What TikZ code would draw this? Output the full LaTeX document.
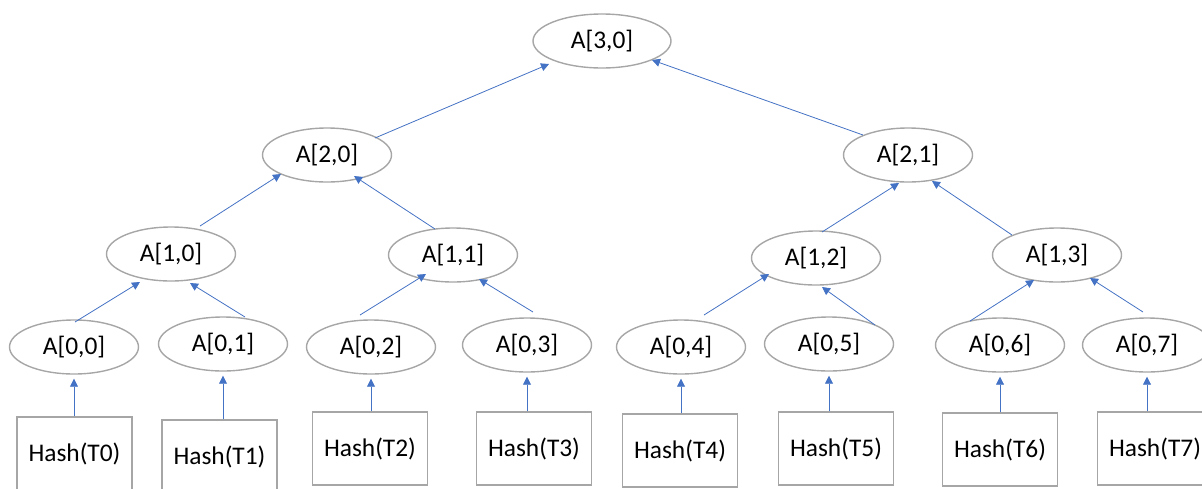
\documentclass[tikz,border=0pt]{standalone}
\usepackage{fontspec}
\setmainfont{Carlito}
\usetikzlibrary{shapes.geometric,arrows.meta}
\definecolor{edgeblue}{RGB}{68,114,196}
\definecolor{bordergray}{RGB}{166,166,166}
\tikzset{
  hnode/.style={ellipse,draw=bordergray,line width=0.7pt,inner sep=0pt,
    minimum width=64.5pt,minimum height=27pt,font=\fontsize{12.7}{15}\selectfont},
  hbox/.style={rectangle,draw=bordergray,line width=0.7pt,inner sep=0pt,
    minimum width=57.5pt,minimum height=36.5pt,font=\fontsize{12.7}{15}\selectfont},
  link/.style={draw=edgeblue,line width=0.4pt,-{Triangle[length=4pt,width=4pt]}}
}
\begin{document}
\begin{tikzpicture}[x=0.5pt,y=-0.5pt]
\path[use as bounding box,clip] (0,0) rectangle (1202,488);
% level 3
\node[hnode,minimum width=69pt] (a30) at (602,41) {A[3,0]};
% level 2
\node[hnode] (a20) at (327,155) {A[2,0]};
\node[hnode] (a21) at (908,155) {A[2,1]};
% level 1
\node[hnode] (a10) at (171,254) {A[1,0]};
\node[hnode] (a11) at (453,255) {A[1,1]};
\node[hnode] (a12) at (816,258) {A[1,2]};
\node[hnode] (a13) at (1057,255) {A[1,3]};
% level 0
\node[hnode] (a00) at (74,347) {A[0,0]};
\node[hnode] (a01) at (223,344) {A[0,1]};
\node[hnode] (a02) at (371,347) {A[0,2]};
\node[hnode] (a03) at (527,345) {A[0,3]};
\node[hnode] (a04) at (681,347) {A[0,4]};
\node[hnode] (a05) at (829,344) {A[0,5]};
\node[hnode] (a06) at (1000,345) {A[0,6]};
\node[hnode] (a07) at (1147,345) {A[0,7]};
% leaves
\node[hbox] (t0) at (74.5,453.5) {Hash(T0)};
\node[hbox] (t1) at (219.5,456.5) {Hash(T1)};
\node[hbox] (t2) at (370,448.5) {Hash(T2)};
\node[hbox] (t3) at (534,448.5) {Hash(T3)};
\node[hbox] (t4) at (680,450.5) {Hash(T4)};
\node[hbox] (t5) at (836,448.5) {Hash(T5)};
\node[hbox] (t6) at (1000,449.5) {Hash(T6)};
\node[hbox] (t7) at (1155,448.5) {Hash(T7)};
% leaf arrows
\foreach \t/\a in {t0/a00,t1/a01,t2/a02,t3/a03,t4/a04,t5/a05,t6/a06,t7/a07}{
  \draw[link,shorten >=2pt] (\t.north -| \a.south) -- (\a.south);
}
% level 0 -> level 1
\draw[link] ([shift={(1,-25)}]a00.center) -- ([shift={(-31,28)}]a10.center);
\draw[link] ([shift={(22,-27)}]a01.center) -- ([shift={(19,29)}]a10.center);
\draw[link] ([shift={(-11,-32)}]a02.center) -- ([shift={(-27,19)}]a11.center);
\draw[link] ([shift={(6,-33)}]a03.center) -- ([shift={(26,24)}]a11.center);
\draw[link] ([shift={(23,-32)}]a04.center) -- ([shift={(-47,16)}]a12.center);
\draw[link] ([shift={(46,-19)}]a05.center) -- ([shift={(6,29)}]a12.center);
\draw[link] ([shift={(-30,-24)}]a06.center) -- ([shift={(-23,25)}]a13.center);
\draw[link] ([shift={(-4,-33)}]a07.center) -- ([shift={(33,23)}]a13.center);
% level 1 -> level 2
\draw[link] ([shift={(29,-28)}]a10.center) -- ([shift={(-46,19)}]a20.center);
\draw[link] ([shift={(-18,-26)}]a11.center) -- ([shift={(27,21)}]a20.center);
\draw[link] ([shift={(6,-26)}]a12.center) -- ([shift={(-9,28)}]a21.center);
\draw[link] ([shift={(-45,-20)}]a13.center) -- ([shift={(24,26)}]a21.center);
% level 2 -> level 3
\draw[link] ([shift={(48,-17)}]a20.center) -- ([shift={(-53,23)}]a30.center);
\draw[link] ([shift={(-45,-20)}]a21.center) -- ([shift={(50,19)}]a30.center);
\end{tikzpicture}
\end{document}
